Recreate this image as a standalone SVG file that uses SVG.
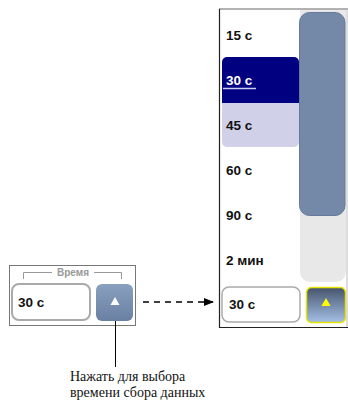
<svg xmlns="http://www.w3.org/2000/svg" width="348" height="401" viewBox="0 0 348 401">
<defs>
<style>
.item{font-family:"Liberation Sans",Arial,sans-serif;font-weight:bold;font-size:13.5px;fill:#111}
.note{font-family:"Liberation Serif","Times New Roman",serif;font-size:14px;fill:#111}
.lbl{font-family:"Liberation Sans",Arial,sans-serif;font-weight:bold;font-size:10px;fill:#999}
</style>
<linearGradient id="gLeftBtn" x1="0" y1="0" x2="0" y2="1">
<stop offset="0" stop-color="#8aa0c0"/>
<stop offset="1" stop-color="#6a80a2"/>
</linearGradient>
<linearGradient id="gRightBtn" x1="0" y1="0" x2="0" y2="1">
<stop offset="0" stop-color="#46546c"/>
<stop offset="1" stop-color="#a4c0e6"/>
</linearGradient>
<marker id="arr" viewBox="0 0 10 10" refX="9" refY="5" markerWidth="10" markerHeight="10" markerUnits="userSpaceOnUse" orient="auto">
<path d="M0,1 L10,5 L0,9 Z" fill="#000"/>
</marker>
</defs>

<g id="left-widget">
<rect x="9.5" y="265.5" width="126" height="60" fill="#fff" stroke="#777" stroke-width="1"/>
<path d="M23.5,279 V272.5 H52 M94,272.5 H121.5 V279" fill="none" stroke="#999" stroke-width="1"/>
<text class="lbl" x="73" y="276" text-anchor="middle">Время</text>
<rect x="12" y="284" width="78" height="36" rx="7" fill="#fff" stroke="#aaa" stroke-width="2"/>
<text class="item" x="18" y="307">30 с</text>
<rect x="96" y="284" width="37" height="37" rx="6" fill="url(#gLeftBtn)"/>
<path d="M115,297 L119.5,305 L110.5,305 Z" fill="#fff"/>
</g>

<g id="right-widget">
<rect x="219.5" y="8.5" width="128" height="319" fill="#fff" stroke="none"/>
<line x1="219" y1="9" x2="348" y2="9" stroke="#999" stroke-width="1.5"/>
<line x1="219.5" y1="9" x2="219.5" y2="328" stroke="#222" stroke-width="1.2"/>
<line x1="219" y1="327.5" x2="348" y2="327.5" stroke="#222" stroke-width="1.2"/>
<line x1="347" y1="9" x2="347" y2="327" stroke="#bbb" stroke-width="1"/>
<path d="M300,10 H346 V272 A10,10 0 0 1 336,282 H310 A10,10 0 0 1 300,272 Z" fill="#e8e8e8"/>
<rect x="299.5" y="12.5" width="45.5" height="203" rx="10" fill="#7389a7" stroke="#66799a" stroke-width="1"/>
<rect x="222" y="57" width="77" height="46" rx="5" fill="#000080"/>
<rect x="222" y="103" width="77" height="44" rx="5" fill="#d0d0e8"/>
<rect x="222" y="98" width="77" height="8" fill="#d0d0e8"/>
<rect x="222" y="96" width="77" height="7" fill="#000080"/>
<text class="item" x="226" y="40">15 с</text>
<text class="item" x="226" y="85" style="fill:#fff">30 с</text>
<line x1="223" y1="88.5" x2="256" y2="88.5" stroke="#c8ccf0" stroke-width="1.5"/>
<text class="item" x="226" y="130">45 с</text>
<text class="item" x="226" y="175">60 с</text>
<text class="item" x="226" y="220">90 с</text>
<text class="item" x="226" y="265">2 мин</text>
<rect x="222" y="287" width="78" height="35" rx="7" fill="#fff" stroke="#aaa" stroke-width="1.5"/>
<text class="item" x="229" y="309">30 с</text>
<rect x="306.5" y="287.5" width="39" height="35" rx="5" fill="url(#gRightBtn)" stroke="#e4e400" stroke-width="1.5"/>
<path d="M326,298 L330.5,306 L321.5,306 Z" fill="#ffff00"/>
</g>

<g id="connectors">
<line x1="143" y1="302" x2="213" y2="302" stroke="#000" stroke-width="1.5" stroke-dasharray="6,5" marker-end="url(#arr)"/>
<line x1="115.5" y1="321" x2="115.5" y2="367" stroke="#000" stroke-width="1"/>
</g>

<g id="note">
<text class="note" x="70" y="381">Нажать для выбора</text>
<text class="note" x="70" y="397">времени сбора данных</text>
</g>
</svg>
